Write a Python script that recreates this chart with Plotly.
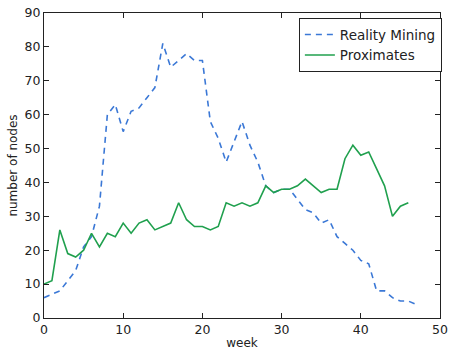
import plotly.graph_objects as go

weeks_rm = list(range(48))
reality_mining = [6, 7, 8, 11, 14, 21, 24, 33, 60, 63, 55, 61, 62, 65, 68, 81,
                  74, 76, 78, 76, 76, 58, 53, 46, 52, 58, 51, 46, 39, 37, 38, 38,
                  35, 32, 31, 28, 29, 24, 22, 20, 17, 16, 8, 8, 6, 5, 5, 4]

weeks_px = list(range(47))
proximates = [10, 11, 26, 19, 18, 20, 25, 21, 25, 24, 28, 25, 28, 29, 26, 27,
              28, 34, 29, 27, 27, 26, 27, 34, 33, 34, 33, 34, 39, 37, 38, 38,
              39, 41, 39, 37, 38, 38, 47, 51, 48, 49, 44, 39, 30, 33, 34]

x_ticks = [0, 10, 20, 30, 40, 50]
y_ticks = [0, 10, 20, 30, 40, 50, 60, 70, 80, 90]

fig = go.Figure()
fig.add_trace(go.Scatter(x=weeks_rm, y=reality_mining, mode="lines",
                         name="Reality Mining",
                         line=dict(color="#3b78d6", width=1.6, dash="6px,5px")))
fig.add_trace(go.Scatter(x=weeks_px, y=proximates, mode="lines",
                         name="Proximates",
                         line=dict(color="#20a04e", width=1.6)))

axis_common = dict(showgrid=False, zeroline=False, showline=True,
                   linecolor="#222222", linewidth=1.2, mirror="ticks",
                   ticks="inside", ticklen=5, tickcolor="#222222",
                   automargin=False,
                   tickfont=dict(family="DejaVu Sans", size=12.5, color="#222222"))

fig.update_xaxes(range=[0, 50], tickvals=x_ticks,
                 title=dict(text="week", font=dict(family="DejaVu Sans", size=12, color="#222222"),
                            standoff=2),
                 **axis_common)
fig.update_yaxes(range=[0, 90], tickvals=y_ticks,
                 title=dict(text="number of nodes", font=dict(family="DejaVu Sans", size=12, color="#222222"),
                            standoff=4),
                 **axis_common)

fig.update_layout(
    width=453, height=350,
    margin=dict(l=44, r=12, t=13, b=32),
    paper_bgcolor="white", plot_bgcolor="white",
    showlegend=True,
    legend=dict(x=0.642, y=0.983, xanchor="left", yanchor="top",
                bgcolor="white", bordercolor="#222222", borderwidth=1,
                font=dict(family="DejaVu Sans", size=13.5, color="#222222"),
                tracegroupgap=0, itemwidth=30),
)

fig.write_html("out.html")
